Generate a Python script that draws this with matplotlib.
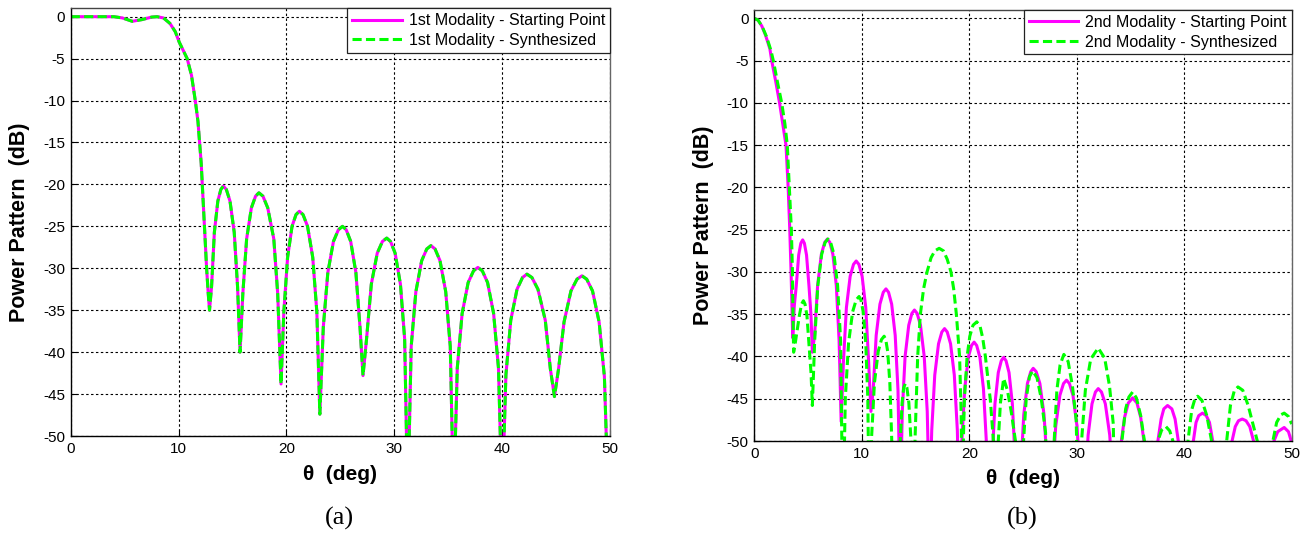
import numpy as np
import matplotlib
matplotlib.use("Agg")
import matplotlib.pyplot as plt

plt.rcParams['font.family'] = ['Liberation Sans', 'DejaVu Sans']

# ---------------- data (theta [deg], power pattern [dB]) ----------------
start1 = [
    (0, 0), (2, 0), (4, 0), (4.8, -0.15), (5.7, -0.55), (6.6, -0.35), (7.5, -0.05), (8.0, 0.0),
    (8.6, -0.15), (9.2, -0.8), (9.7, -1.8), (10.05, -3.0), (10.5, -4.2), (10.8, -5.0), (11.2, -7.0),
    (11.55, -10), (11.8, -12.5), (11.95, -15), (12.1, -17.5), (12.2, -20), (12.3, -22.5), (12.4, -25),
    (12.5, -27.5), (12.6, -30), (12.75, -33), (12.87, -35),
    (13.06, -32.2), (13.32, -25.7), (13.64, -22.0), (13.92, -20.6), (14.15, -20.2),
    (14.43, -20.6), (14.77, -22.0), (15.16, -25.7), (15.47, -32.2), (15.7, -40),
    (15.96, -33), (16.31, -26.5), (16.75, -22.8), (17.14, -21.4), (17.45, -21.0),
    (17.82, -21.4), (18.27, -22.8), (18.83, -26.5), (19.19, -33), (19.5, -43.8),
    (19.76, -35.2), (20.11, -28.7), (20.52, -25.0), (20.89, -23.6), (21.2, -23.2),
    (21.54, -23.6), (21.96, -25.0), (22.44, -28.7), (22.82, -35.2), (23.1, -47.4),
    (23.42, -37), (23.84, -30.5), (24.36, -26.8), (24.82, -25.4), (25.2, -25.0),
    (25.54, -25.4), (25.96, -26.8), (26.44, -30.5), (26.82, -37), (27.1, -42.8),
    (27.43, -38.4), (27.87, -31.9), (28.42, -28.2), (28.9, -26.8), (29.3, -26.4),
    (29.65, -26.8), (30.08, -28.2), (30.57, -31.9), (30.96, -38.4), (31.25, -58),
    (31.57, -39.3), (32.0, -32.8), (32.54, -29.1), (33.01, -27.7), (33.4, -27.3),
    (33.78, -27.7), (34.24, -29.1), (34.77, -32.8), (35.19, -39.3), (35.5, -58),
    (35.84, -41.9), (36.29, -35.4), (36.85, -31.7), (37.35, -30.3), (37.75, -29.9),
    (38.16, -30.3), (38.65, -31.7), (39.21, -35.4), (39.66, -41.9), (40.0, -58),
    (40.35, -42.7), (40.8, -36.2), (41.38, -32.5), (41.89, -31.1), (42.3, -30.7),
    (42.76, -31.1), (43.32, -32.5), (44.0, -36.2), (44.47, -42.0), (44.85, -45.3),
    (45.23, -42.0), (45.74, -36.4), (46.38, -32.7), (46.94, -31.3), (47.4, -30.9),
    (47.84, -31.3), (48.38, -32.7), (48.99, -36.4), (49.48, -42.9), (49.85, -58),
]
# synthesized 1st modality is visually identical to its starting point
synth1 = list(start1)

start2 = [
    (0, 0), (0.35, -0.2), (0.7, -0.9), (1.05, -2.0), (1.45, -3.6), (1.62, -5), (2.0, -7.5), (2.35, -10),
    (2.65, -12.5), (2.95, -15), (3.15, -20), (3.3, -25), (3.42, -30), (3.5, -34), (3.58, -37.8),
    (3.72, -34), (3.9, -31.7), (4.13, -28), (4.33, -26.6), (4.5, -26.2),
    (4.66, -26.6), (4.86, -28), (5.09, -31.7), (5.27, -35), (5.4, -39.5),
    (5.61, -37.5), (5.89, -31.6), (6.24, -27.9), (6.55, -26.5), (6.8, -26.1),
    (7.03, -26.5), (7.31, -27.9), (7.63, -31.6), (7.89, -38.1), (8.08, -47.7),
    (8.29, -40.7), (8.57, -34.2), (8.92, -30.5), (9.23, -29.1), (9.48, -28.7),
    (9.73, -29.1), (10.03, -30.5), (10.37, -34.2), (10.64, -40.7), (10.85, -46.5),
    (11.06, -44), (11.34, -37.5), (11.69, -33.8), (12.0, -32.4), (12.25, -32.0),
    (12.49, -32.4), (12.78, -33.8), (13.11, -37.5), (13.37, -44), (13.57, -58),
    (13.77, -46.5), (14.03, -40), (14.37, -36.3), (14.66, -34.9), (14.9, -34.5),
    (15.15, -34.9), (15.46, -36.3), (15.81, -40), (16.09, -46.5), (16.3, -58),
    (16.51, -48.7), (16.79, -42.2), (17.14, -38.5), (17.45, -37.1), (17.7, -36.7),
    (17.95, -37.1), (18.26, -38.5), (18.61, -42.2), (18.89, -48.7), (19.1, -60),
    (19.3, -50.3), (19.58, -43.8), (19.91, -40.1), (20.21, -38.7), (20.45, -38.3),
    (20.69, -38.7), (20.99, -40.1), (21.32, -43.8), (21.6, -50.3), (21.8, -60),
    (21.95, -60), (22.14, -52), (22.39, -45.6), (22.7, -41.9), (22.98, -40.5), (23.2, -40.1),
    (23.42, -40.5), (23.7, -41.9), (24.01, -45.6), (24.26, -52), (24.45, -60),
    (24.6, -60), (24.8, -53.4), (25.07, -46.9), (25.41, -43.2), (25.72, -41.8), (25.95, -41.4),
    (26.23, -41.8), (26.57, -43.2), (26.96, -46.9), (27.27, -53.4), (27.5, -60),
    (27.73, -54.8), (28.04, -48.3), (28.43, -44.6), (28.77, -43.2), (29.05, -42.8),
    (29.32, -43.2), (29.65, -44.6), (30.03, -48.3), (30.33, -54.8), (30.55, -60),
    (30.77, -55.8), (31.06, -49.3), (31.42, -45.6), (31.74, -44.2), (32.0, -43.8),
    (32.3, -44.2), (32.66, -45.6), (33.07, -49.3), (33.4, -55.8), (33.65, -60),
    (33.85, -60), (34.15, -50), (34.45, -47.2), (34.8, -45.5), (35.2, -44.9), (35.6, -45.5), (35.95, -47.2),
    (36.25, -50), (36.45, -60),
    (37.25, -60), (37.55, -50), (37.85, -47.4), (38.1, -46.2), (38.45, -45.8), (38.85, -46.2), (39.15, -47.4),
    (39.45, -50), (39.65, -60),
    (40.55, -60), (40.85, -50), (41.1, -47.8), (41.35, -47), (41.7, -46.7), (42.05, -47), (42.35, -47.8),
    (42.65, -50), (42.85, -60),
    (44.15, -60), (44.45, -50), (44.75, -48.3), (45.05, -47.6), (45.4, -47.4), (45.75, -47.6), (46.1, -48.3),
    (46.45, -50), (46.7, -60),
    (48.05, -60), (48.35, -50), (48.7, -48.9), (49.3, -48.4), (49.7, -48.9), (50.0, -50.2),
]

synth2 = [
    (0, 0), (0.35, -0.2), (0.75, -1.0), (1.15, -2.2), (1.55, -3.8), (1.77, -5), (2.15, -7.5), (2.55, -10),
    (2.85, -12.5), (3.07, -15), (3.26, -20), (3.45, -25), (3.55, -30), (3.6, -35), (3.66, -39.5),
    (3.8, -38.5), (3.98, -37), (4.2, -35.1), (4.4, -33.8), (4.57, -33.4),
    (4.72, -33.8), (4.9, -35.2), (5.11, -38.9), (5.28, -42), (5.4, -45.8),
    (5.62, -38.1), (5.91, -31.6), (6.27, -27.9), (6.59, -26.5), (6.85, -26.1),
    (7.1, -26.5), (7.41, -27.9), (7.75, -31.6), (8.03, -38.1), (8.24, -60),
    (8.47, -44.9), (8.77, -38.4), (9.15, -34.7), (9.48, -33.3), (9.75, -32.9),
    (9.92, -33.3), (10.13, -34.7), (10.37, -38.4), (10.56, -44.9), (10.7, -60),
    (10.91, -49.6), (11.18, -43.1), (11.53, -39.4), (11.83, -38.0), (12.08, -37.6),
    (12.23, -38), (12.41, -39.4), (12.61, -43.1), (12.78, -49.6), (12.9, -60),
    (13.45, -60), (13.58, -50), (13.75, -45.5), (13.9, -43.7), (14.05, -43.2),
    (14.2, -43.7), (14.38, -45.5), (14.58, -50), (14.75, -60),
    (14.95, -50), (15.2, -40), (15.45, -35), (15.75, -32), (16.07, -30), (16.45, -28.3), (16.8, -27.5),
    (17.2, -27.2), (17.6, -27.5), (17.95, -28.5), (18.3, -30), (18.55, -32), (18.8, -35), (19.1, -40),
    (19.25, -47), (19.35, -60),
    (19.45, -50), (19.55, -45), (19.8, -40), (20.05, -37.6), (20.35, -36.3), (20.7, -35.9), (21.0, -36.4),
    (21.25, -37.8), (21.5, -40), (21.95, -45), (22.25, -50), (22.4, -60),
    (22.5, -60), (22.7, -50), (22.9, -45.5), (23.2, -42.6), (23.55, -44), (23.9, -46.5), (24.3, -50), (24.5, -60),
    (24.85, -60), (25.05, -50), (25.3, -45), (25.6, -42.4), (25.9, -41.7), (26.3, -42.5), (26.7, -45), (27.1, -49),
    (27.3, -60),
    (27.65, -60), (27.9, -50), (28.15, -44), (28.45, -41), (28.8, -39.75), (29.2, -40.6), (29.6, -43.5),
    (29.95, -47.5), (30.15, -60),
    (30.25, -60), (30.45, -50), (30.8, -44), (31.3, -40.3), (32.0, -39.0), (32.6, -40.2), (33.05, -43.5),
    (33.4, -48), (33.55, -60),
    (34.0, -60), (34.2, -50), (34.55, -46.2), (34.85, -44.8), (35.2, -44.2), (35.55, -44.9), (35.95, -47),
    (36.3, -50), (36.45, -60),
    (37.3, -60), (37.55, -50), (37.9, -48.7), (38.3, -48.3), (38.65, -48.8), (38.95, -50), (39.1, -60),
    (40.1, -60), (40.35, -50), (40.7, -46.3), (41.0, -45), (41.25, -44.7), (41.65, -45.2), (42.1, -47),
    (42.55, -50), (42.75, -60),
    (43.7, -60), (43.95, -50), (44.3, -45.8), (44.65, -44.1), (45.0, -43.6), (45.45, -44), (45.95, -45.8),
    (46.5, -48.5), (46.8, -50), (46.95, -60),
    (48.0, -60), (48.25, -50), (48.6, -47.8), (49.0, -46.9), (49.3, -46.7), (49.7, -47.1), (50.0, -48),
]

x_ticks = [0, 10, 20, 30, 40, 50]
y_ticks = [0, -5, -10, -15, -20, -25, -30, -35, -40, -45, -50]
labels_a = ["1st Modality - Starting Point", "1st Modality - Synthesized"]
labels_b = ["2nd Modality - Starting Point", "2nd Modality - Synthesized"]
panel_tags = ["(a)", "(b)"]

# ---------------- figure ----------------
W, H = 1310, 534
fig = plt.figure(figsize=(W / 100, H / 100), dpi=100)

ax_a = fig.add_axes([70.7 / W, 98 / H, 539.3 / W, 427.7 / H])
ax_b = fig.add_axes([754.3 / W, 93 / H, 537.4 / W, 431 / H])

MAG = '#ff00ff'
GRN = '#00ff00'


def draw(ax, start, synth, labels):
    s = np.array(start)
    g = np.array(synth)
    ax.plot(s[:, 0], s[:, 1], color=MAG, lw=2.2, solid_joinstyle='round', label=labels[0])
    ax.plot(g[:, 0], g[:, 1], color=GRN, lw=2.2, linestyle=(0, (3.0, 1.4)), label=labels[1])
    ax.set_xlim(0, 50)
    ax.set_ylim(-50, 1)
    ax.set_xticks(x_ticks)
    ax.set_yticks(y_ticks)
    ax.set_yticklabels([str(v) for v in y_ticks])
    ax.grid(True, color='black', linestyle=(0, (2.2, 2.2)), linewidth=0.8)
    ax.set_axisbelow(True)
    ax.tick_params(direction='in', length=4, width=0.8, labelsize=11, colors='black', pad=4)
    for side in ['left', 'bottom', 'top', 'right']:
        ax.spines[side].set_linewidth(1.0)
    ax.spines['top'].set_color('#444444')
    ax.spines['right'].set_color('#666666')
    ax.set_ylabel('Power Pattern  (dB)', fontsize=15.5, fontweight='bold')
    ax.set_xlabel('\u03b8  (deg)', fontsize=15, fontweight='bold')
    ax.yaxis.label.set_verticalalignment('center')
    ax.xaxis.label.set_verticalalignment('center')
    leg = ax.legend(loc='upper right', borderaxespad=0, fontsize=11.5, handlelength=3.1,
                    handletextpad=0.45, labelspacing=0.3, fancybox=False, framealpha=1,
                    edgecolor='#222222', borderpad=0.3)
    leg.get_frame().set_linewidth(0.9)


draw(ax_a, start1, synth1, labels_a)
draw(ax_b, start2, synth2, labels_b)

ax_a.yaxis.set_label_coords((20 - 70.7) / 539.3, 0.5)
ax_a.xaxis.set_label_coords(0.5, -(474 - 436) / 427.7)
ax_b.yaxis.set_label_coords((704 - 754.3) / 537.4, 0.5)
ax_b.xaxis.set_label_coords(0.5, -(478 - 441) / 431)

fig.text(339 / W, 1 - 518 / H, panel_tags[0], family='Liberation Serif', fontsize=19, ha='center', va='center')
fig.text(1022 / W, 1 - 518 / H, panel_tags[1], family='Liberation Serif', fontsize=19, ha='center', va='center')

fig.savefig('out.png', dpi=100)
